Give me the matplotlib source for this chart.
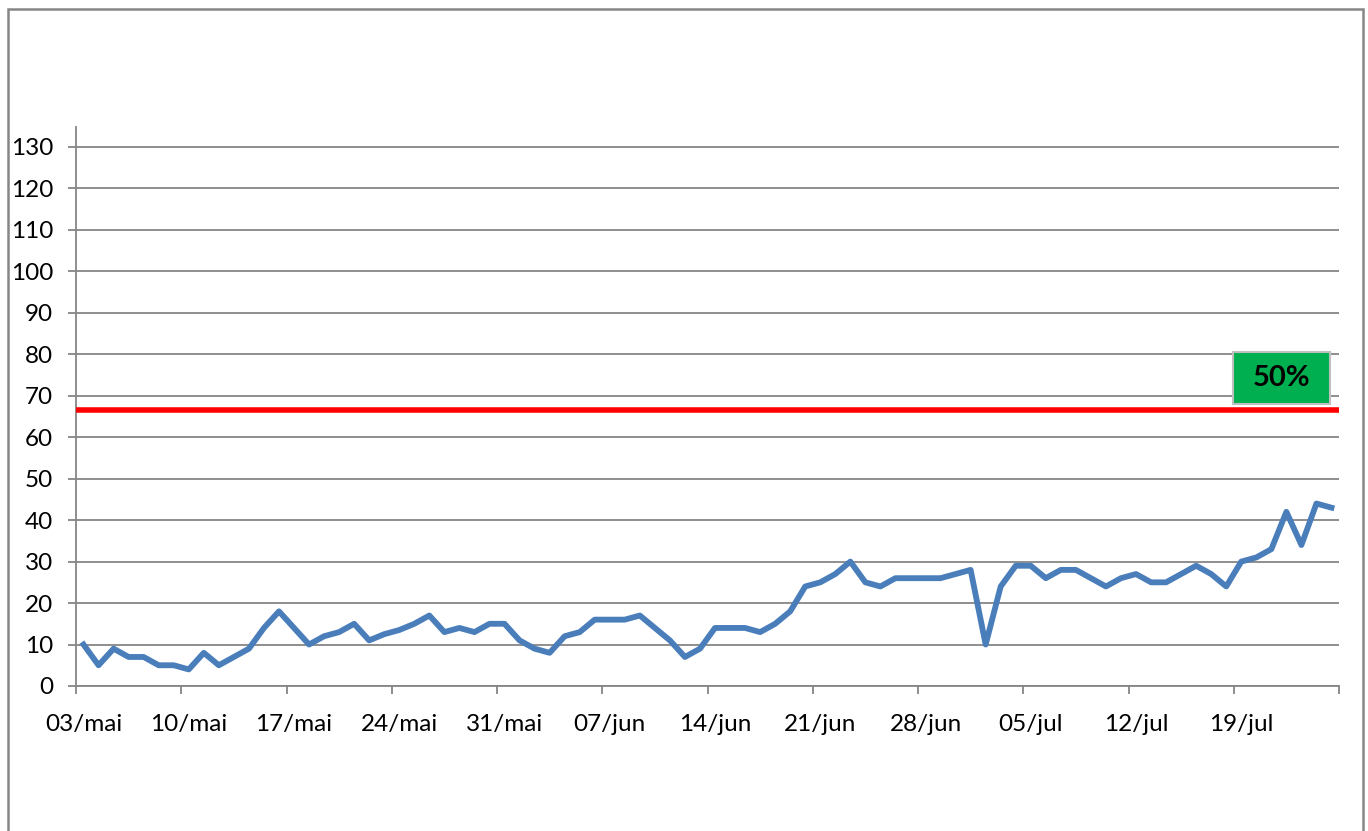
import matplotlib
matplotlib.use("Agg")
import matplotlib.pyplot as plt
from matplotlib.patches import Rectangle

plt.rcParams['font.family'] = ['Lato', 'DejaVu Sans']

# daily values, 03/mai .. 25/jul
values = [10, 5, 9, 7, 7, 5, 5, 4, 8, 5,
          7, 9, 14, 18, 14, 10, 12, 13, 15, 11,
          12.5, 13.5, 15, 17, 13, 14, 13, 15, 15, 11,
          9, 8, 12, 13, 16, 16, 16, 17, 14, 11,
          7, 9, 14, 14, 14, 13, 15, 18, 24, 25,
          27, 30, 25, 24, 26, 26, 26, 26, 27, 28,
          10, 24, 29, 29, 26, 28, 28, 26, 24, 26,
          27, 25, 25, 27, 29, 27, 24, 30, 31, 33,
          42, 34, 44, 43]
week_labels = ["03/mai", "10/mai", "17/mai", "24/mai", "31/mai", "07/jun",
               "14/jun", "21/jun", "28/jun", "05/jul", "12/jul", "19/jul"]
target = 66.5
target_label = "50%"

grey = "#868686"

fig = plt.figure(figsize=(13.68, 8.31), dpi=100)
ax = fig.add_axes([76 / 1368, 1 - 686 / 831, (1339 - 76) / 1368, (686 - 127) / 831])

x = [i + 0.5 for i in range(len(values))]
ax.plot(x, values, color="#4A7EBB", lw=4.2, solid_joinstyle="round", zorder=3)
ax.axhline(target, color="#FF0000", lw=4.0, zorder=4)

ax.set_xlim(0, len(values))
ax.set_ylim(0, 134.8)
ax.set_yticks(range(0, 131, 10))
# tick marks on week boundaries, labels centred on the day
ax.set_xticks(range(0, len(values) + 1, 7))
ax.set_xticklabels([])
ax.set_xticks([7 * k + 0.5 for k in range(len(week_labels))], minor=True)
ax.set_xticklabels(week_labels, minor=True)
ax.grid(axis="y", color=grey, lw=1.3)
ax.set_axisbelow(True)

for s in ["top", "right"]:
    ax.spines[s].set_visible(False)
for s in ["left", "bottom"]:
    ax.spines[s].set_color(grey)
    ax.spines[s].set_linewidth(1.3)
ax.tick_params(axis="both", colors=grey, length=6, width=1.3, labelsize=17.5,
               labelcolor="black")
ax.tick_params(axis="x", which="minor", length=0, pad=20, labelsize=17.5,
               labelcolor="black")
ax.tick_params(axis="y", pad=10.5)

# green label box
ax.add_patch(Rectangle((0.916, 68), 0.077, 12.6, transform=ax.get_yaxis_transform(),
                       facecolor="#00B050", edgecolor="#BFBFBF", lw=1.5, zorder=5))
ax.text(0.9545, 74.3, target_label, transform=ax.get_yaxis_transform(),
        ha="center", va="center", fontsize=21, fontweight="bold", zorder=6)

# outer chart frame
fig.add_artist(Rectangle((8 / 1368, -0.05), (1363 - 8) / 1368, 1.05 - 9 / 831,
                         transform=fig.transFigure, fill=False, edgecolor=grey, lw=1.8))

fig.savefig("out.png", dpi=100)
